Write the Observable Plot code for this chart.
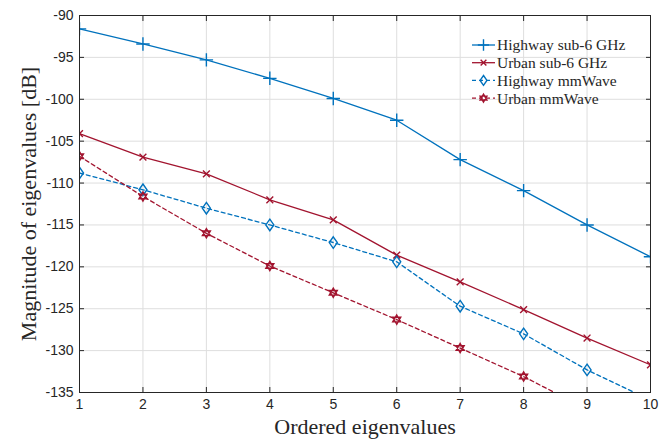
<!DOCTYPE html>
<html>
<head>
<meta charset="utf-8">
<script src="https://cdn.jsdelivr.net/npm/d3@7"></script>
<script src="https://cdn.jsdelivr.net/npm/@observablehq/plot@0.6"></script>
<style>
  html, body { margin: 0; padding: 0; background: #fff; }
  #chart { position: relative; width: 672px; height: 440px; }
</style>
</head>
<body>
<div id="chart"></div>
<script>
const eigenIndex = [1, 2, 3, 4, 5, 6, 7, 8, 9, 10];
const highwaySub6 = [-91.6, -93.4, -95.3, -97.5, -99.9, -102.5, -107.2, -110.9, -115.0, -118.8];
const urbanSub6 = [-104.1, -106.9, -108.9, -112.0, -114.4, -118.6, -121.8, -125.1, -128.5, -131.7];
const highwayMmWave = [-108.8, -110.8, -113.0, -115.0, -117.1, -119.4, -124.7, -128.0, -132.3, -135.9];
const urbanMmWave = [-106.8, -111.6, -116.0, -119.9, -123.1, -126.3, -129.7, -133.1, -137.0, -140.8];
const seriesNames = ["Highway sub-6 GHz", "Urban sub-6 GHz", "Highway mmWave", "Urban mmWave"];
const xTicks = [1, 2, 3, 4, 5, 6, 7, 8, 9, 10];
const yTicks = [-135, -130, -125, -120, -115, -110, -105, -100, -95, -90];

const BLUE = "#0072BD", RED = "#A2142F";

// custom symbols
const hexagram = {
  draw(ctx, size) {
    const r = Math.sqrt(size / Math.PI) * 1.05;
    for (let t = 0; t < 2; t++) {
      const off = t === 0 ? -Math.PI / 2 : Math.PI / 2;
      for (let i = 0; i < 3; i++) {
        const a = off + i * 2 * Math.PI / 3;
        const px = r * Math.cos(a), py = r * Math.sin(a);
        if (i === 0) ctx.moveTo(px, py); else ctx.lineTo(px, py);
      }
      ctx.closePath();
    }
  }
};
const tallDiamond = {
  draw(ctx, size) {
    const r = Math.sqrt(size / Math.PI) * 1.15;
    const w = r * 0.7;
    ctx.moveTo(0, -r); ctx.lineTo(w, 0); ctx.lineTo(0, r); ctx.lineTo(-w, 0); ctx.closePath();
  }
};

const seriesDefs = [
  {name: seriesNames[0], values: highwaySub6, color: BLUE, dash: null, symbol: "plus", r: 4.4},
  {name: seriesNames[1], values: urbanSub6, color: RED, dash: null, symbol: "times", r: 3.2},
  {name: seriesNames[2], values: highwayMmWave, color: BLUE, dash: "4,3", symbol: tallDiamond, r: 5},
  {name: seriesNames[3], values: urbanMmWave, color: RED, dash: "4,3", symbol: hexagram, r: 4.4}
];

const marks = [
  Plot.gridX(xTicks, {stroke: "#dedede", strokeOpacity: 1, strokeWidth: 1}),
  Plot.gridY(yTicks, {stroke: "#dedede", strokeOpacity: 1, strokeWidth: 1}),
];
for (const s of seriesDefs) {
  const data = eigenIndex.map((x, i) => ({x, y: s.values[i]}));
  marks.push(Plot.line(data, {x: "x", y: "y", stroke: s.color, strokeWidth: 1.3, strokeDasharray: s.dash, clip: true}));
  marks.push(Plot.dot(data, {x: "x", y: "y", stroke: s.color, fill: "none", symbol: () => s.symbol, r: s.r, strokeWidth: 1.4, clip: true}));
}
marks.push(
  Plot.frame({stroke: "#262626", strokeWidth: 1}),
  Plot.axisX(xTicks, {anchor: "bottom", tickSize: -5, tickPadding: 12, stroke: "#262626", fontSize: 14, fill: "#262626", fontFamily: "Liberation Sans", tickFormat: d => String(d), label: null}),
  Plot.axisX(xTicks, {anchor: "top", tickSize: -5, stroke: "#262626", text: null, label: null}),
  Plot.axisY(yTicks, {anchor: "left", tickSize: -5, tickPadding: 11, stroke: "#262626", fontSize: 14, fill: "#262626", fontFamily: "Liberation Sans", tickFormat: d => String(d), label: null}),
  Plot.axisY(yTicks, {anchor: "right", tickSize: -5, stroke: "#262626", text: null, label: null}),
  Plot.text(["Ordered eigenvalues"], {frameAnchor: "bottom", textAnchor: "middle", dy: 34.5, fontSize: 22, fontFamily: "Liberation Serif", fill: "#262626", lineAnchor: "middle"}),
  Plot.text(["Magnitude of eigenvalues [dB]"], {frameAnchor: "left", textAnchor: "middle", dx: -51, rotate: -90, fontSize: 22, fontFamily: "Liberation Serif", fill: "#262626", lineAnchor: "middle"})
);

const chart = Plot.plot({
  width: 672,
  height: 440,
  marginLeft: 79,
  marginRight: 22,
  marginTop: 15,
  marginBottom: 48,
  x: {domain: [1, 10]},
  y: {domain: [-135, -90]},
  style: {background: "#fff", fontFamily: "Liberation Sans"},
  marks
});
document.getElementById("chart").appendChild(chart);

// Legend inside plot (top-right)
const svg = d3.select(chart);
const lg = svg.append("g").attr("transform", "translate(472,45)");
const rowH = 17.7;
seriesDefs.forEach((s, i) => {
  const g = lg.append("g").attr("transform", `translate(0,${i * rowH})`);
  g.append("line").attr("x1", 0).attr("x2", 23).attr("y1", 0).attr("y2", 0)
    .attr("stroke", s.color).attr("stroke-width", 1.3).attr("stroke-dasharray", s.dash);
  const sym = typeof s.symbol === "string" ? (s.symbol === "plus" ? d3.symbolPlus : d3.symbolTimes) : s.symbol;
  g.append("path").attr("transform", "translate(11.5,0)")
    .attr("d", d3.symbol(sym, Math.PI * (s.r * 0.85) ** 2)())
    .attr("fill", "none").attr("stroke", s.color).attr("stroke-width", 1.4);
  g.append("text").attr("x", 25).attr("y", 0).attr("dy", "0.35em")
    .attr("text-anchor", "start")
    .style("font-family", "'Liberation Serif', serif").style("font-size", "15.5px").attr("fill", "#262626")
    .text(s.name);
});
</script>
</body>
</html>
